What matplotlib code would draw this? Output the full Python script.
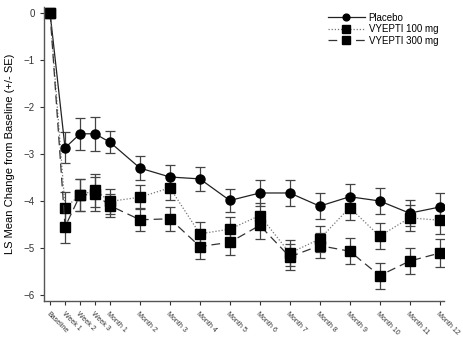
import matplotlib

matplotlib.use("Agg")
import matplotlib.pyplot as plt

plt.rcParams["font.family"] = ["Liberation Sans", "DejaVu Sans"]

# visit labels and their position on a week-like scale
visits = ["Baseline", "Week 1", "Week 2", "Week 3", "Month 1", "Month 2", "Month 3",
          "Month 4", "Month 5", "Month 6", "Month 7", "Month 8", "Month 9",
          "Month 10", "Month 11", "Month 12"]
visit_x = [0, 1, 2, 3, 4, 6, 8, 10, 12, 14, 16, 18, 20, 22, 24, 26]

placebo = [0, -2.87, -2.57, -2.57, -2.75, -3.30, -3.49, -3.53, -3.99, -3.83,
           -3.83, -4.11, -3.91, -4.00, -4.26, -4.13]
placebo_se = [0, 0.33, 0.34, 0.36, 0.23, 0.25, 0.25, 0.25, 0.25, 0.28,
              0.27, 0.27, 0.28, 0.28, 0.28, 0.29]

v100 = [0, -4.14, -3.88, -3.77, -4.01, -3.92, -3.72, -4.70, -4.60, -4.31,
        -5.11, -4.81, -4.14, -4.75, -4.36, -4.41]
v100_se = [0, 0.33, 0.34, 0.35, 0.26, 0.25, 0.26, 0.26, 0.26, 0.27,
           0.28, 0.27, 0.27, 0.28, 0.27, 0.29]

v300 = [0, -4.55, -3.88, -3.85, -4.10, -4.40, -4.38, -4.97, -4.88, -4.52,
        -5.19, -4.95, -5.07, -5.59, -5.28, -5.11]
v300_se = [0, 0.34, 0.34, 0.36, 0.25, 0.25, 0.26, 0.27, 0.27, 0.28,
           0.28, 0.27, 0.28, 0.28, 0.28, 0.30]

fig = plt.figure(figsize=(4.64, 3.48), dpi=100)
ax = fig.add_axes([0.095, 0.135, 0.862, 0.845])

err_kw = dict(ecolor="#444444", elinewidth=0.9, capsize=3.5, capthick=0.9)
ax.errorbar(visit_x, placebo, yerr=placebo_se, color="#222222", lw=0.9, ls="-",
            marker="o", ms=6.5, mfc="black", mec="black", label="Placebo", **err_kw)
ax.errorbar(visit_x, v100, yerr=v100_se, color="#777777", lw=0.9, ls=(0, (1, 1.5)),
            marker="s", ms=7, mfc="black", mec="black", label="VYEPTI 100 mg", **err_kw)
ax.errorbar(visit_x, v300, yerr=v300_se, color="#333333", lw=0.9, ls=(0, (7, 4)),
            marker="s", ms=7, mfc="black", mec="black", label="VYEPTI 300 mg", **err_kw)

ax.set_xlim(-0.4, 26.3)
ax.set_ylim(-6.13, 0.13)
ax.set_yticks([0, -1, -2, -3, -4, -5, -6])
ax.set_xticks(visit_x)
ax.set_xticklabels(visits, rotation=-45, ha="left", va="top",
                   rotation_mode="anchor", fontsize=5, color="#333333")
ax.tick_params(axis="y", labelsize=7, colors="#333333", length=3, width=0.8)
ax.tick_params(axis="x", length=3, width=0.8, colors="#333333")
for side in ("top", "right"):
    ax.spines[side].set_visible(False)
for side in ("left", "bottom"):
    ax.spines[side].set_color("#555555")
    ax.spines[side].set_linewidth(1.0)

ax.set_ylabel("LS Mean Change from Baseline (+/- SE)", fontsize=8, labelpad=6)

handles, labels = ax.get_legend_handles_labels()
handles = [h.lines[0] for h in handles]
ax.legend(handles, labels, loc="upper right", bbox_to_anchor=(1.0, 1.0),
          frameon=False, fontsize=7, handlelength=3.8, handletextpad=0.4,
          labelspacing=0.15, borderaxespad=0.2, markerscale=0.75)

fig.savefig("out.png", dpi=100)
